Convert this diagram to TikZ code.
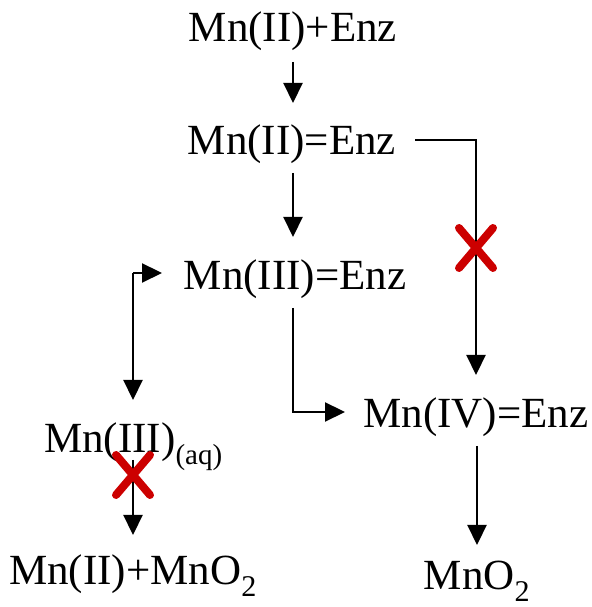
\documentclass[tikz,border=0pt]{standalone}
\usepackage{fontspec}
\setmainfont{Liberation Serif}
\usetikzlibrary{arrows.meta}
\definecolor{crossred}{HTML}{CC0000}
\begin{document}
\begin{tikzpicture}[x=1pt,y=1pt,
  species/.style={inner sep=0pt,anchor=base,font=\fontsize{43}{47}\selectfont},
  link/.style={line width=2.2pt,-{Triangle[length=20pt,width=19pt]}},
  blocked/.style={line width=8pt,line cap=round,crossred}]
\useasboundingbox (0,0) rectangle (591,607);

% species
\node[species] (free)  at (293,565) {Mn(II)+Enz};
\node[species] (bound) at (292,452) {Mn(II)=Enz};
\node[species] (three) at (295,317) {Mn(III)=Enz};
\node[species] (four)  at (476,179) {Mn(IV)=Enz};
\node[species,anchor=base west] (aq) at (44,154) {Mn(III)\textsubscript{\fontsize{29}{31}\selectfont(aq)}};
\node[species] (disp)  at (133,22) {Mn(II)+MnO\textsubscript{2}};
\node[species] (oxide) at (477,17) {MnO\textsubscript{2}};

% connector end points
\coordinate (a1) at (293,545); \coordinate (a2) at (293,504);
\coordinate (b1) at (293,434); \coordinate (b2) at (293,370);
\coordinate (c1) at (415,467); \coordinate (c2) at (476,232);
\coordinate (d1) at (293,299); \coordinate (d2) at (345,195);
\coordinate (e0) at (133,334); \coordinate (e1) at (162,334); \coordinate (e2) at (133,207);
\coordinate (f1) at (133,147); \coordinate (f2) at (133,72);
\coordinate (g1) at (477,161); \coordinate (g2) at (477,62);

% reaction steps
\draw[link] (a1) -- (a2);
\draw[link] (b1) -- (b2);
\draw[link] (c1) -| (c2);
\draw[link] (d1) |- (d2);
\draw[link] (e0) -- (e1);
\draw[link] (e0) -- (e2);
\draw[link] (f1) -- (f2);
\draw[link] (g1) -- (g2);

% blocked pathways
\foreach \cx/\cy in {476/359, 133/132}{
  \draw[blocked] (\cx-17,\cy+20) -- (\cx+17,\cy-20);
  \draw[blocked] (\cx-17,\cy-20) -- (\cx+17,\cy+20);
}
\end{tikzpicture}
\end{document}
